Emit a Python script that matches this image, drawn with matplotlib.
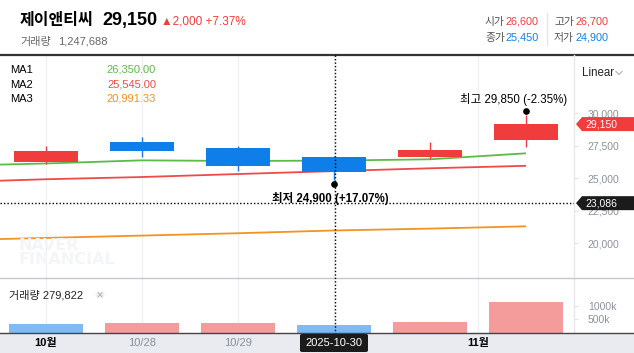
import matplotlib
matplotlib.use('Agg')
import matplotlib.pyplot as plt
import matplotlib.transforms as mtransforms
from matplotlib.patches import Rectangle, Polygon, FancyBboxPatch, Circle
from matplotlib.lines import Line2D

plt.rcParams['font.family'] = ['Liberation Sans', 'Noto Sans CJK KR']

# ---------------- data ----------------
stock_name = '제이앤티씨'
last_price = 29150
change = 2000
change_pct = 7.37
total_volume = 1247688

dates = ['10/27', '10/28', '10/29', '10/30', '10/31', '11/03']
opens = [26250, 27800, 27300, 26600, 26650, 27950]
highs = [27470, 28150, 27470, 26700, 27750, 29850]
lows = [26090, 26650, 25570, 24900, 26450, 27400]
closes = [27100, 27100, 25900, 25450, 27150, 29150]
volumes = [310000, 360000, 365000, 279822, 400000, 1130000]
prev_volume = 350000

ma_x = [-1, 0, 1, 2, 3, 4, 5]
ma1 = [25950, 26130, 26370, 26320, 26350, 26450, 26910]
ma2 = [24690, 24920, 25090, 25320, 25545, 25760, 25950]
ma3 = [20240, 20420, 20600, 20780, 20991.33, 21135, 21310]
ma_names = ['MA1', 'MA2', 'MA3']

hover_idx = 3
hover_label = '2025-10-30'
x_tick_pos = [0, 1, 2, 3, 4.5]
x_tick_labels = ['10월', '10/28', '10/29', hover_label, '11월']
price_ticks = [20000, 22500, 25000, 27500, 30000]
vol_ticks = [500000, 1000000]
vol_tick_labels = ['500k', '1000k']
crosshair_price = 23086
period_high = max(highs)
period_low = min(lows)

# ---------------- style ----------------
W, H = 634, 353
RED = '#f03c3c'
BLUE = '#0f7ee9'
VRED = '#f49c9c'
VBLUE = '#80baf5'
GREEN = '#5bbb47'
MARED = '#ee4a4a'
ORANGE = '#f39321'
GRID = '#eef0f3'
AXTXT = '#8d929b'

fig = plt.figure(figsize=(W / 100, H / 100), dpi=100)
fig.patch.set_facecolor('white')


def fx(px):
    return px / W


def fy(py):
    return 1 - py / H


# watermark (behind everything)
fig.text(fx(19), fy(263.5), 'NAVER\nFINANCIAL', fontsize=11.5, fontweight='bold',
         color='#f4f5f7', ha='left', va='baseline', family='DejaVu Sans',
         linespacing=0.9, zorder=0)

# axes
ax = fig.add_axes([0, fy(278), fx(574), (278 - 55) / H])
axv = fig.add_axes([0, fy(333), fx(574), (333 - 278) / H])
for a in (ax, axv):
    a.set_facecolor('none')
    a.set_xlim(-0.479, 5.5)
    for s in a.spines.values():
        s.set_visible(False)
    for xp in x_tick_pos:
        a.axvline(xp, color=GRID, lw=1, zorder=0)

ax.set_ylim(17347, 34448)
axv.set_ylim(0, 2000000)

# candles
for i in range(len(dates)):
    o, h, l, c = opens[i], highs[i], lows[i], closes[i]
    col = RED if c >= o else BLUE
    ax.vlines(i, l, h, color=col, lw=1, zorder=3)
    ax.bar(i, abs(c - o), bottom=min(o, c), width=0.66, color=col, zorder=3)

# moving averages
for vals, col in zip([ma1, ma2, ma3], [GREEN, MARED, ORANGE]):
    ax.plot(ma_x, vals, color=col, lw=1.3, zorder=2, solid_capstyle='butt')

# volume bars
prev = prev_volume
for i, v in enumerate(volumes):
    col = VRED if v >= prev else VBLUE
    axv.bar(i, v, width=0.78, color=col, zorder=2)
    prev = v

# price axis
ax.yaxis.tick_right()
ax.set_yticks(price_ticks)
ax.set_yticklabels([f'{p:,}' for p in price_ticks])
ax.tick_params(axis='y', length=3, width=0.8, color='#e3e5e9', pad=7,
               labelsize=7.5, labelcolor=AXTXT)
ax.set_xticks([])

axv.yaxis.tick_right()
axv.set_yticks(vol_ticks)
axv.set_yticklabels(vol_tick_labels)
axv.tick_params(axis='y', length=3, width=0.8, color='#e3e5e9', pad=7,
                labelsize=7.5, labelcolor=AXTXT)
axv.set_xticks([])

# separators
fig.add_artist(Line2D([0, 1], [fy(54.5), fy(54.5)], color='#333333', lw=1.6))
fig.add_artist(Line2D([fx(574), fx(574)], [fy(55), fy(333)], color='#e6e8eb', lw=1))
fig.add_artist(Line2D([0, 1], [fy(278), fy(278)], color='#c3c8cf', lw=1))
fig.add_artist(Rectangle((0, 0), 1, fy(333), transform=fig.transFigure,
                         facecolor='#e9ebf0', edgecolor='none', zorder=0))
fig.add_artist(Line2D([0, 1], [fy(333), fy(333)], color='#444444', lw=1))

# crosshair
ax.axhline(crosshair_price, color='black', lw=1, ls=(0, (1, 1.5)), zorder=5)
fig.add_artist(Line2D([fx(334.5), fx(334.5)], [fy(55), fy(333)], color='black',
                      lw=1, ls=(0, (1, 1.5)), zorder=5))

# high / low markers
up = mtransforms.offset_copy(ax.transData, fig=fig, x=0, y=3.5, units='dots')
dn = mtransforms.offset_copy(ax.transData, fig=fig, x=0, y=-4.5, units='dots')
hi_i = highs.index(period_high)
lo_i = lows.index(period_low)
ax.plot([hi_i], [period_high], 'o', color='black', ms=3.8, transform=up, zorder=6)
ax.plot([lo_i], [period_low], 'o', color='black', ms=3.8, transform=dn, zorder=6)
t_hi = mtransforms.offset_copy(ax.transData, fig=fig, x=41, y=15.5, units='dots')
ax.text(hi_i, period_high,
        f'최고 {period_high:,} ({(last_price / period_high - 1) * 100:+.2f}%)',
        transform=t_hi, ha='right', va='center', fontsize=8.3, color='black', zorder=7)
t_lo = mtransforms.offset_copy(ax.transData, fig=fig, x=-3.5, y=-19, units='dots')
ax.text(lo_i, period_low,
        f'최저 {period_low:,} ({(last_price / period_low - 1) * 100:+.2f}%)',
        transform=t_lo, ha='center', va='center', fontsize=8.3, color='black',
        zorder=7, fontweight='bold')


def price_py(p):
    disp = ax.transData.transform((0, p))
    return H - disp[1]


def tag(p, col, text):
    cy = price_py(p)
    hh = 7
    pts = [(fx(576), fy(cy)), (fx(582), fy(cy - hh)), (fx(634), fy(cy - hh)),
           (fx(634), fy(cy + hh)), (fx(582), fy(cy + hh))]
    fig.add_artist(Polygon(pts, closed=True, facecolor=col, edgecolor='none',
                           transform=fig.transFigure, zorder=8))
    fig.text(fx(585), fy(cy), text, color='white', fontsize=7.5, ha='left',
             va='center', zorder=9)


tag(last_price, RED, f'{last_price:,}')
tag(crosshair_price, '#1b1b1b', f'{crosshair_price:,}')

# Linear selector
fig.text(fx(582), fy(73), 'Linear', fontsize=8.3, color='#222222', ha='left', va='center')
fig.add_artist(Line2D([fx(616), fx(619), fx(622)], [fy(71.5), fy(74.5), fy(71.5)],
                      color='#b0b3b8', lw=0.9))

# MA legend
for k, (name, vals, col) in enumerate(zip(ma_names, [ma1, ma2, ma3],
                                          [GREEN, MARED, ORANGE])):
    yy = 70 + k * 14.5
    fig.text(fx(10), fy(yy), name, fontsize=8, color='black', ha='left', va='center')
    fig.text(fx(156), fy(yy), f'{vals[hover_idx + 1]:,.2f}', fontsize=8, color=col,
             ha='right', va='center')

# header
fig.text(fx(20), fy(20.5), stock_name, fontsize=11.5, fontweight='bold', color='black',
         ha='left', va='center')
fig.text(fx(102), fy(20.5), f'{last_price:,}', fontsize=13, fontweight='bold',
         color='black', ha='left', va='center')
fig.text(fx(161), fy(21), f'▲{change:,} +{change_pct:.2f}%', fontsize=8.5,
         color=RED, ha='left', va='center')
fig.text(fx(20), fy(41.5), '거래량', fontsize=8, color='#666666', ha='left', va='center')
fig.text(fx(58), fy(41.5), f'{total_volume:,}', fontsize=8, color='#666666',
         ha='left', va='center')

hover = [('시가', opens[hover_idx], RED, 539, 21.5), ('고가', highs[hover_idx], RED, 608, 21.5),
         ('종가', closes[hover_idx], BLUE, 539, 37.5), ('저가', lows[hover_idx], BLUE, 608, 37.5)]
for lab, val, col, xr, yy in hover:
    fig.text(fx(xr), fy(yy), f'{val:,}', fontsize=7.8, color=col, ha='right', va='center')
    fig.text(fx(xr - 34), fy(yy), lab, fontsize=7.8, color='#555555', ha='right', va='center')
fig.add_artist(Line2D([fx(547), fx(547)], [fy(13), fy(45)], color='#e6e6e6', lw=1))

# volume label
fig.text(fx(9), fy(295), f'거래량 {volumes[hover_idx]:,}', fontsize=8, color='#222222',
         ha='left', va='center')
fig.add_artist(Circle((fx(100), fy(295)), radius=4.5 / W, transform=fig.transFigure,
                      facecolor='#eeeeee', edgecolor='none'))
fig.text(fx(100), fy(295.5), '×', fontsize=7, color='#aaaaaa', ha='center', va='center',
         family='DejaVu Sans')

# x labels
for xp, lab in zip(x_tick_pos, x_tick_labels):
    px = axv.transData.transform((xp, 0))[0]
    if lab == hover_label:
        fig.add_artist(FancyBboxPatch((fx(px - 34), fy(352)), 68 / W, 18 / H,
                                      boxstyle='round,pad=0,rounding_size=0.004',
                                      transform=fig.transFigure, facecolor='#1b1b1b',
                                      edgecolor='none', zorder=3))
        fig.text(fx(px), fy(343), lab, fontsize=8, color='white', ha='center',
                 va='center', zorder=4)
    elif '월' in lab:
        fig.text(fx(px), fy(343), lab, fontsize=8, color='black', ha='center',
                 va='center', fontweight='bold')
    else:
        fig.text(fx(px), fy(343), lab, fontsize=8, color='#8a8f98', ha='center',
                 va='center')

fig.savefig('out.png', dpi=100)
